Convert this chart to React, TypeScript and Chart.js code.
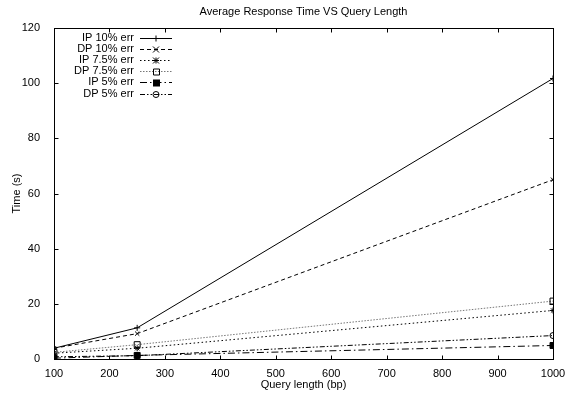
import React, { useEffect, useRef } from "react";
import { Chart, registerables } from "chart.js";

Chart.register(...registerables);

const chartTitle = "Average Response Time VS Query Length";
const queryLengths = [100, 250, 1000];
const seriesNames = ["IP 10% err", "DP 10% err", "IP 7.5% err", "DP 7.5% err", "IP 5% err", "DP 5% err"];
const ip10 = [3.9, 11.3, 101.7];
const dp10 = [3.9, 9.2, 65];
const ip75 = [2.1, 3.9, 17.6];
const dp75 = [2.4, 5.2, 21];
const ip5 = [0.3, 1.3, 4.9];
const dp5 = [0.8, 1.2, 8.5];
const xTicks = [100, 200, 300, 400, 500, 600, 700, 800, 900, 1000];
const yTicks = [0, 20, 40, 60, 80, 100, 120];

const FONT = "'Liberation Sans', Arial, Helvetica, sans-serif";
const FS = 11;

type Style = { color: string; dash: number[]; marker: string; fill: boolean };
const styles: Style[] = [
  { color: "#000", dash: [], marker: "plus", fill: false },
  { color: "#000", dash: [4, 3], marker: "x", fill: false },
  { color: "#000", dash: [1.5, 2.5], marker: "star", fill: false },
  { color: "#777", dash: [1.5, 1.5], marker: "square", fill: false },
  { color: "#000", dash: [7, 3, 1.5, 3], marker: "squareFilled", fill: true },
  { color: "#000", dash: [5, 2, 1.5, 2, 1.5, 2], marker: "circle", fill: false },
];

const chartPointStyle: Record<string, string> = {
  plus: "cross",
  x: "crossRot",
  star: "star",
  square: "rect",
  squareFilled: "rect",
  circle: "circle",
};

function drawMarker(ctx: CanvasRenderingContext2D, kind: string, x: number, y: number) {
  ctx.save();
  ctx.setLineDash([]);
  ctx.strokeStyle = "#000";
  ctx.fillStyle = "#000";
  ctx.lineWidth = 1;
  const r = 3;
  ctx.beginPath();
  if (kind === "plus") {
    ctx.moveTo(x - r, y); ctx.lineTo(x + r, y);
    ctx.moveTo(x, y - r); ctx.lineTo(x, y + r);
    ctx.stroke();
  } else if (kind === "x") {
    ctx.moveTo(x - r, y - r); ctx.lineTo(x + r, y + r);
    ctx.moveTo(x - r, y + r); ctx.lineTo(x + r, y - r);
    ctx.stroke();
  } else if (kind === "star") {
    ctx.moveTo(x - r, y); ctx.lineTo(x + r, y);
    ctx.moveTo(x, y - r); ctx.lineTo(x, y + r);
    ctx.moveTo(x - r, y - r); ctx.lineTo(x + r, y + r);
    ctx.moveTo(x - r, y + r); ctx.lineTo(x + r, y - r);
    ctx.stroke();
  } else if (kind === "square") {
    ctx.rect(x - r + 0.5, y - r + 0.5, 2 * r, 2 * r);
    ctx.stroke();
  } else if (kind === "squareFilled") {
    ctx.rect(x - r, y - r, 2 * r + 1, 2 * r + 1);
    ctx.fill();
  } else if (kind === "circle") {
    ctx.arc(x, y, r, 0, Math.PI * 2);
    ctx.stroke();
  }
  ctx.restore();
}

const framePlugin = {
  id: "gnuplotFrame",
  afterDatasetsDraw(chart: any) {
    const { ctx, chartArea: a, scales } = chart;
    ctx.save();
    ctx.strokeStyle = "#000";
    ctx.lineWidth = 1;
    ctx.setLineDash([]);
    const L = Math.round(a.left) + 0.5, R = Math.round(a.right) + 0.5;
    const T = Math.round(a.top) + 0.5, B = Math.round(a.bottom) + 0.5;
    ctx.strokeRect(L, T, R - L, B - T);
    const tl = 4;
    ctx.beginPath();
    for (const v of xTicks) {
      const px = Math.round(scales.x.getPixelForValue(v)) + 0.5;
      ctx.moveTo(px, B); ctx.lineTo(px, B - tl);
      ctx.moveTo(px, T); ctx.lineTo(px, T + tl);
    }
    for (const v of yTicks) {
      const py = Math.round(scales.y.getPixelForValue(v)) + 0.5;
      ctx.moveTo(L, py); ctx.lineTo(L + tl, py);
      ctx.moveTo(R, py); ctx.lineTo(R - tl, py);
    }
    ctx.stroke();

    // title centred over plot area
    ctx.font = `${FS}px ${FONT}`;
    ctx.fillStyle = "#000";
    ctx.textAlign = "center";
    ctx.textBaseline = "middle";
    ctx.fillText(chartTitle, (a.left + a.right) / 2, 12);

    // legend
    ctx.textAlign = "right";
    seriesNames.forEach((name, i) => {
      const y = 38 + i * 11.1;
      ctx.fillText(name, 134, y);
      const st = styles[i];
      ctx.save();
      ctx.strokeStyle = st.color;
      ctx.setLineDash(st.dash);
      ctx.beginPath();
      ctx.moveTo(140, Math.round(y) + 0.5);
      ctx.lineTo(172, Math.round(y) + 0.5);
      ctx.stroke();
      ctx.restore();
      drawMarker(ctx, st.marker, 156, Math.round(y) + 0.5);
    });
    ctx.restore();
  },
};

export default function App() {
  const ref = useRef<HTMLCanvasElement>(null);
  useEffect(() => {
    const values = [ip10, dp10, ip75, dp75, ip5, dp5];
    const datasets = values.map((vals, i) => {
      const st = styles[i];
      return {
        label: seriesNames[i],
        data: queryLengths.map((x, j) => ({ x, y: vals[j] })),
        borderColor: st.color,
        borderWidth: 1,
        borderDash: st.dash,
        pointStyle: chartPointStyle[st.marker] as any,
        pointRadius: st.marker === "square" || st.marker === "squareFilled" ? 4.2 : 3,
        pointBorderColor: "#000",
        pointBackgroundColor: st.fill ? "#000" : "rgba(0,0,0,0)",
        pointBorderWidth: 1,
        fill: false,
        tension: 0,
      };
    });
    const chart = new Chart(ref.current!, {
      type: "line",
      data: { datasets },
      options: {
        animation: false,
        responsive: false,
        maintainAspectRatio: false,
        layout: { padding: { left: 0, right: 15, top: 28, bottom: 0 } },
        plugins: {
          legend: { display: false },
          tooltip: { enabled: false },
          title: { display: false },
        },
        scales: {
          x: {
            type: "linear",
            min: 100,
            max: 1000,
            grid: { display: false },
            border: { display: false },
            afterBuildTicks: (s: any) => { s.ticks = xTicks.map((v) => ({ value: v })); },
            afterFit: (s: any) => { s.height = 36; },
            ticks: { color: "#000", font: { family: FONT, size: FS }, padding: 0, maxRotation: 0, autoSkip: false, callback: (v: any) => String(v) },
            title: { display: true, text: "Query length (bp)", color: "#000", font: { family: FONT, size: FS }, padding: { top: 0, bottom: 3 } },
          },
          y: {
            type: "linear",
            min: 0,
            max: 120,
            grid: { display: false },
            border: { display: false },
            afterBuildTicks: (s: any) => { s.ticks = yTicks.map((v) => ({ value: v })); },
            afterFit: (s: any) => { s.width = 54; },
            ticks: { color: "#000", font: { family: FONT, size: FS }, padding: 6, callback: (v: any) => String(v) },
            title: { display: true, text: "Time (s)", color: "#000", font: { family: FONT, size: FS }, padding: { top: 10, bottom: 0 } },
          },
        },
      },
      plugins: [framePlugin],
    });
    return () => chart.destroy();
  }, []);
  return (
    <div style={{ position: "absolute", left: 0, top: 0, width: 568, height: 395, background: "#fff" }}>
      <canvas ref={ref} width={568} height={395} style={{ width: 568, height: 395, display: "block" }} />
    </div>
  );
}
